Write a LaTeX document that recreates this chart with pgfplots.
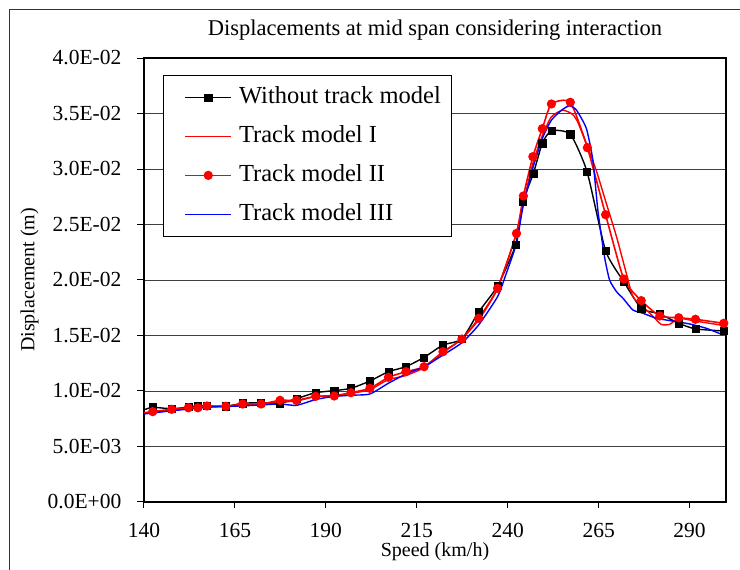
\documentclass[border=0pt]{standalone}
\usepackage{pgfplots}
\pgfplotsset{compat=1.18}
\usepackage{fontspec}
\setmainfont{Liberation Serif}
\begin{document}
\begin{tikzpicture}
\begin{axis}[
  at={(0pt,0pt)}, anchor=south west,
  scale only axis, width=582pt, height=444pt,
  xmin=140, xmax=300, ymin=0, ymax=0.04,
  xtick={140,165,190,215,240,265,290},
  ytick={0,0.005,0.01,0.015,0.02,0.025,0.03,0.035,0.04},
  yticklabels={0.0E+00,5.0E-03,1.0E-02,1.5E-02,2.0E-02,2.5E-02,3.0E-02,3.5E-02,4.0E-02},
  scaled y ticks=false,
  /pgf/number format/assume math mode=true,
  tick align=outside, xtick pos=bottom, ytick pos=left,
  axis line style={line width=1.5pt},
  ymajorgrids, major grid style={black!75, line width=0.8pt},
  tick style={black, line width=1pt}, major tick length=6.5pt,
  ticklabel style={font=\fontsize{21.5}{24}\selectfont},
  xticklabel style={anchor=base, inner ysep=0pt, yshift=-29pt},
  yticklabel style={anchor=east, inner xsep=0pt, xshift=-16pt},
  title={Displacements at mid span considering interaction},
  title style={font=\fontsize{22.5}{26}\selectfont, at={(axis description cs:0.5,1)}, anchor=base, yshift=17pt},
  xlabel={Speed (km/h)},
  xlabel style={font=\fontsize{20}{24}\selectfont, at={(axis description cs:0.5,0)}, anchor=base, yshift=-55pt},
  ylabel={Displacement (m)},
  ylabel style={font=\fontsize{20}{24}\selectfont, at={(axis description cs:-0.1965,0.5)}, anchor=center},
  legend cell align=left,
  legend image code/.code={\path (0pt,0pt) (63pt,0pt); \draw[mark repeat=2,mark phase=2] plot coordinates {(13pt,0pt) (36pt,0pt) (59pt,0pt)};},
  legend style={at={(axis description cs:0.0326,0.962)}, anchor=north west,
    draw=black, line width=1pt, fill=white, font=\fontsize{24.5}{28}\selectfont,
    inner xsep=8pt, inner ysep=8pt, row sep=11pt,
    nodes={text height=17pt, text depth=5pt, inner sep=3pt}},
]
\addplot[black, line width=1.4pt, smooth, tension=0.35, mark=square*, mark size=3.6pt, mark phase=2, mark options={solid, line width=0.5pt}] coordinates {
(140,0.0083) (142.4,0.00853) (147.6,0.00840) (152.2,0.00855) (154.8,0.00868) (157.3,0.00865)
(162.5,0.00862) (167.1,0.00889) (172.2,0.00895) (177.4,0.00889) (181.9,0.00931) (187.2,0.00985)
(192.3,0.01003) (196.9,0.01024) (202.1,0.01090) (207.2,0.01174) (212.0,0.01219) (217.0,0.01303)
(222.2,0.01414) (227.4,0.01468) (232.0,0.01712) (237.2,0.01946) (242.2,0.02318) (244.2,0.02705)
(247.0,0.02955) (249.5,0.03232) (252.0,0.03345) (257.2,0.03313) (261.8,0.02976) (266.9,0.02264)
(271.9,0.01985) (276.7,0.01745) (281.8,0.01694) (287.0,0.01610) (291.6,0.01559) (299.4,0.01541)
};
\addlegendentry{Without track model}
\addplot[red, line width=1.4pt, smooth, tension=0.35] coordinates {
(140,0.00805) (148,0.0083) (157,0.00855) (166,0.0087) (172,0.00885) (177,0.0090) (182,0.0091)
(187,0.0095) (192,0.0096) (197,0.0098) (202,0.0101) (207,0.0110) (212,0.0114) (217,0.0121)
(222,0.0134) (227,0.0146) (232,0.0164) (237,0.0191) (242,0.0238) (244.3,0.0270) (247,0.0306)
(249.5,0.0330) (252,0.0347) (255,0.0353) (257.5,0.0350) (259,0.0344) (261.6,0.0323) (264.3,0.0299)
(267.1,0.0269) (269.9,0.0239) (272.6,0.0206) (274.4,0.0185) (277.2,0.0176) (280,0.0167)
(282.2,0.0160) (284.5,0.0160) (287,0.01655) (291.6,0.0163) (299.4,0.0159)
};
\addlegendentry{Track model I}
\addplot[red, line width=1.6pt, smooth, tension=0.35, mark=*, mark size=3.8pt, mark phase=2, mark options={solid}] coordinates {
(140,0.0080) (142.4,0.00814) (147.6,0.00835) (152.2,0.00849) (154.8,0.00849) (157.3,0.00865)
(162.5,0.00862) (167.1,0.00883) (172.2,0.00883) (177.4,0.00916) (181.9,0.00916) (187.2,0.00952)
(192.3,0.00955) (196.9,0.00985) (202.1,0.01024) (207.2,0.01123) (212.0,0.01174) (217.0,0.01219)
(222.2,0.01354) (227.4,0.01468) (232.0,0.01655) (237.2,0.01925) (242.4,0.0242) (244.3,0.02757)
(246.9,0.03111) (249.5,0.03363) (252.0,0.03586) (257.2,0.03601) (261.9,0.03192) (266.9,0.02588)
(271.9,0.02009) (276.7,0.01814) (281.8,0.01676) (287.0,0.0166) (291.6,0.01646) (299.4,0.0161)
};
\addlegendentry{Track model II}
\addplot[blue, line width=1.4pt, smooth, tension=0.35] coordinates {
(140,0.00793) (148,0.00823) (157.2,0.00853) (166.4,0.00865) (171.9,0.00874) (177.4,0.00883)
(181.9,0.00871) (187.4,0.00925) (192,0.0095) (197,0.00962) (202.1,0.00973) (207.2,0.0107)
(212,0.01153) (217,0.01219) (222.2,0.01324) (227.4,0.01435) (232,0.01595) (237.2,0.0185)
(239.5,0.0205) (242.4,0.0233) (244.2,0.0266) (247,0.0302) (249.7,0.0329) (252,0.0344)
(254.8,0.0353) (257,0.0357) (258.9,0.0353) (261.6,0.03366) (263.4,0.0308) (264.8,0.0262)
(266.6,0.0221) (268,0.0200) (269.9,0.01895) (271.7,0.01835) (274.4,0.0173) (277.2,0.0170)
(280.9,0.01655) (285.4,0.0163) (290,0.01604) (294.6,0.01565) (299.2,0.01505)
};
\addlegendentry{Track model III}
\end{axis}
\draw[black!80, line width=1pt] (-134pt,-68pt) -- (-134pt,492pt) -- (596pt,492pt);
\pgfresetboundingbox
\useasboundingbox (-144pt,-68pt) rectangle (596pt,502pt);
\end{tikzpicture}
\end{document}
